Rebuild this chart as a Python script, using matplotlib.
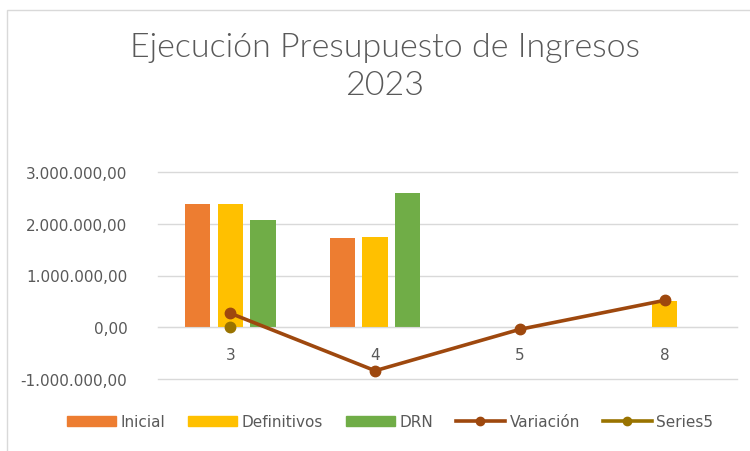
import numpy as np
import matplotlib
matplotlib.use('Agg')
from matplotlib import pyplot as plt
from matplotlib.ticker import FuncFormatter
from matplotlib.lines import Line2D
from matplotlib.patches import Patch, Rectangle

plt.rcParams['font.family'] = ['Liberation Sans Narrow', 'DejaVu Sans']

categorias = ['3', '4', '5', '8']
inicial = [2380000, 1720000, 0, 0]
definitivos = [2380000, 1750000, 0, 500000]
drn = [2080000, 2590000, 0, 0]
variacion = [270000, -840000, -40000, 520000]
series5 = [0, np.nan, np.nan, np.nan]

c_ini = '#ED7D31'
c_def = '#FFC000'
c_drn = '#70AD47'
c_var = '#9E480E'
c_s5 = '#997300'
gris = '#595959'


def fmt_es(v, pos):
    s = '{:,.2f}'.format(v)
    return s.replace(',', 'X').replace('.', ',').replace('X', '.')


fig = plt.figure(figsize=(7.5, 4.52), dpi=100)
ax = fig.add_axes([158 / 750, 1 - 380 / 452, 579 / 750, 207 / 452])

x = np.arange(len(categorias))
w = 0.175
d = 0.225
ax.bar(x - d, inicial, w, color=c_ini, zorder=2)
ax.bar(x, definitivos, w, color=c_def, zorder=2)
ax.bar(x + d, drn, w, color=c_drn, zorder=2)
ax.plot(x, variacion, color=c_var, lw=2.6, marker='o', ms=7.5, zorder=4)
ax.plot(x, series5, color=c_s5, lw=2.6, marker='o', ms=7.5, zorder=3)

ax.set_xlim(-0.5, 3.5)
ax.set_ylim(-1000000, 3000000)
ax.set_yticks([-1000000, 0, 1000000, 2000000, 3000000])
ax.yaxis.set_major_formatter(FuncFormatter(fmt_es))
ax.set_xticks(x)
ax.set_xticklabels(categorias)
ax.grid(axis='y', color='#D9D9D9', lw=1, zorder=0)
for gl in ax.get_ygridlines():
    gl.set_clip_on(False)
for s in ['top', 'right', 'left']:
    ax.spines[s].set_visible(False)
ax.spines['bottom'].set_position(('data', 0))
ax.spines['bottom'].set_color('#D9D9D9')
ax.tick_params(axis='both', length=0, colors=gris, labelsize=11)
ax.tick_params(axis='x', pad=14)
ax.tick_params(axis='y', pad=22)

titulo_font = dict(ha='center', va='center', fontsize=24.5, color=gris,
                   family=['Lato', 'DejaVu Sans'], fontweight=300)
fig.text(0.513, 1 - 48 / 452, 'Ejecución Presupuesto de Ingresos', **titulo_font)
fig.text(0.513, 1 - 86 / 452, '2023', **titulo_font)

handles = [
    Patch(color=c_ini, label='Inicial'),
    Patch(color=c_def, label='Definitivos'),
    Patch(color=c_drn, label='DRN'),
    Line2D([], [], color=c_var, lw=2.6, marker='o', ms=6, label='Variación'),
    Line2D([], [], color=c_s5, lw=2.6, marker='o', ms=6, label='Series5'),
]
fig.legend(handles=handles, loc='center', bbox_to_anchor=(0.52, 1 - 423 / 452), ncol=5,
           frameon=False, fontsize=11, labelcolor=gris, handlelength=3.2, handleheight=0.6,
           columnspacing=1.5, handletextpad=0.3)

fig.patches.append(Rectangle((7 / 750, -0.1), 1.2, 1.1 - 11 / 452, transform=fig.transFigure,
                             fill=False, edgecolor='#D9D9D9', lw=1))

fig.savefig('out.png', dpi=100)
